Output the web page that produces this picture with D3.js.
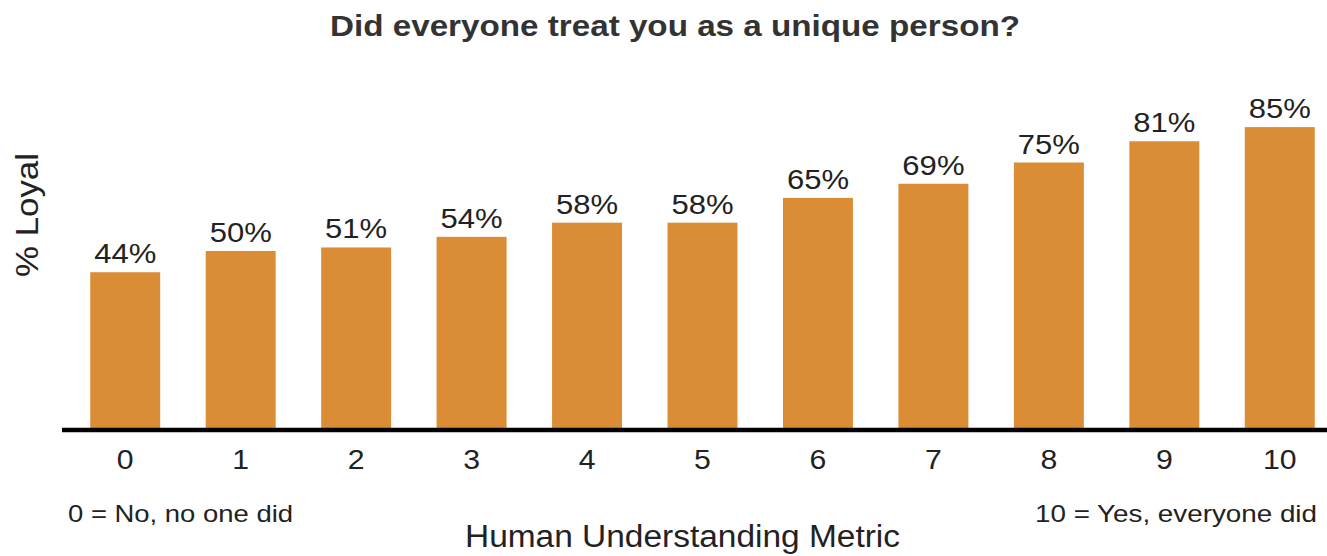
<!DOCTYPE html>
<html>
<head>
<meta charset="utf-8">
<script src="https://cdn.jsdelivr.net/npm/d3@7"></script>
<style>
  body { margin: 0; background: #fff; }
  svg text { font-family: "Liberation Sans", Arial, sans-serif; }
</style>
</head>
<body>
<div id="chart"></div>
<script>
// data
const categories = ["0", "1", "2", "3", "4", "5", "6", "7", "8", "9", "10"];
const loyal = [44, 50, 51, 54, 58, 58, 65, 69, 75, 81, 85];

const width = 1327, height = 556;
const barColor = "#db8d35";
const stretch = 1.15; // source text looks a bit wide

const svg = d3.select("#chart").append("svg")
  .attr("width", width)
  .attr("height", height);

// bars run 90 -> 1315, step ~115.5, width 70
const x = d3.scaleBand()
  .domain(categories)
  .range([67.5, 1337.5])
  .paddingInner(0.394)
  .paddingOuter(0.197);

const y = d3.scaleLinear()
  .domain([0, 100])
  .range([428, 74]);

svg.append("text")
  .attr("x", 675)
  .attr("y", 36)
  .attr("text-anchor", "middle")
  .attr("font-size", 30)
  .attr("font-weight", "bold")
  .attr("fill", "#333")
  .attr("textLength", 690)
  .attr("lengthAdjust", "spacingAndGlyphs")
  .text("Did everyone treat you as a unique person?");

svg.append("g")
  .selectAll("rect")
  .data(loyal)
  .enter().append("rect")
  .attr("x", (d, i) => x(categories[i]))
  .attr("y", d => y(d))
  .attr("width", x.bandwidth())
  .attr("height", d => y(0) - y(d))
  .attr("fill", barColor);

svg.append("g")
  .selectAll("text")
  .data(loyal)
  .enter().append("text")
  .attr("transform", (d, i) => "translate(" + (x(categories[i]) + x.bandwidth() / 2) + "," + (y(d) - 9) + ") scale(" + stretch + ",1)")
  .attr("text-anchor", "middle")
  .attr("font-size", 27)
  .attr("fill", "#222")
  .text(d => d + "%");

// x axis: thick baseline, no ticks
const xAxis = svg.append("g")
  .attr("transform", "translate(0," + (y(0) + 2) + ")")
  .call(d3.axisBottom(x).tickSize(0).tickPadding(20));
xAxis.select(".domain")
  .attr("d", "M62,0H1327")
  .attr("stroke", "#000")
  .attr("stroke-width", 4.5);
xAxis.selectAll(".tick text")
  .attr("font-family", "Liberation Sans, Arial, sans-serif")
  .attr("font-size", 27)
  .attr("fill", "#222")
  .attr("transform", "scale(1.12,1)");

svg.append("text")
  .attr("transform", "translate(38,215) rotate(-90)")
  .attr("text-anchor", "middle")
  .attr("font-size", 32)
  .attr("fill", "#222")
  .attr("textLength", 124)
  .attr("lengthAdjust", "spacingAndGlyphs")
  .text("% Loyal");

svg.append("text")
  .attr("x", 68)
  .attr("y", 522)
  .attr("font-size", 24)
  .attr("fill", "#222")
  .attr("textLength", 225)
  .attr("lengthAdjust", "spacingAndGlyphs")
  .text("0 = No, no one did");

svg.append("text")
  .attr("x", 1035)
  .attr("y", 522)
  .attr("font-size", 24)
  .attr("fill", "#222")
  .attr("textLength", 282)
  .attr("lengthAdjust", "spacingAndGlyphs")
  .text("10 = Yes, everyone did");

svg.append("text")
  .attr("x", 465)
  .attr("y", 547)
  .attr("font-size", 31)
  .attr("fill", "#222")
  .attr("textLength", 435)
  .attr("lengthAdjust", "spacingAndGlyphs")
  .text("Human Understanding Metric");
</script>
</body>
</html>
